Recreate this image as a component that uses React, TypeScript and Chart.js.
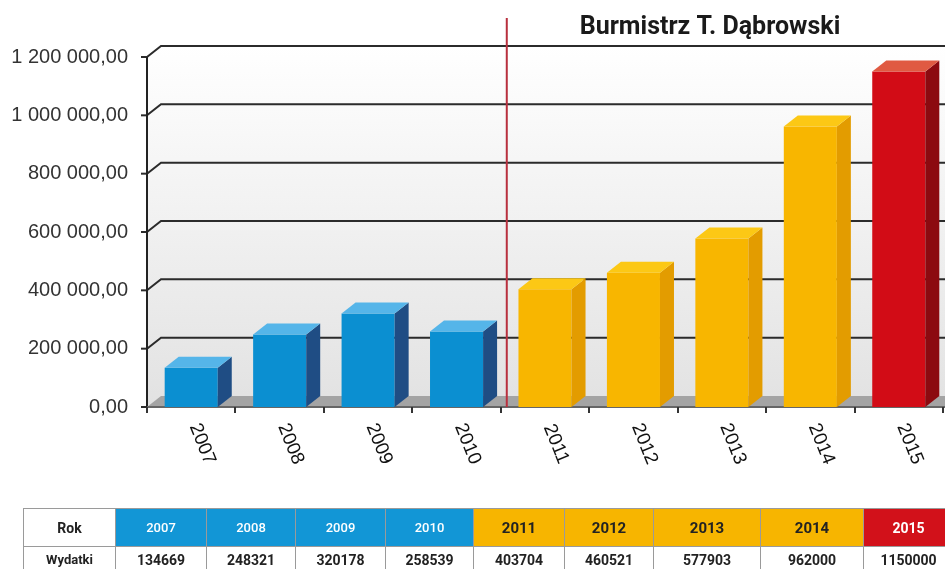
import React, { useEffect, useRef } from 'react';
import { Chart, registerables } from 'chart.js';

Chart.register(...registerables);

// ---- data ----
const years = ['2007', '2008', '2009', '2010', '2011', '2012', '2013', '2014', '2015'];
const spending = [134669, 248321, 320178, 258539, 403704, 460521, 577903, 962000, 1150000];
const periods = ['blue', 'blue', 'blue', 'blue', 'yellow', 'yellow', 'yellow', 'yellow', 'red'];
const yTickValues = [0, 200000, 400000, 600000, 800000, 1000000, 1200000];
const chartTitle = 'Burmistrz T. Dąbrowski';
const rowLabels = ['Rok', 'Wydatki'];
const tableColumnWidths = [92, 91, 89, 90, 88, 91, 89, 107, 103, 90];

const COLORS: Record<string, any> = {
  blue: { front: '#0b8fd1', side: '#1f4d84', top: '#55b5e9', cell: '#1296d6', cellText: '#ffffff', weight: 500, size: 13 },
  yellow: { front: '#f8b600', side: '#e39c00', top: '#fcc815', cell: '#f7b500', cellText: '#222222', weight: 700, size: 15 },
  red: { front: '#d20c16', side: '#8c0a10', top: '#e05a42', cell: '#d2111a', cellText: '#ffffff', weight: 700, size: 14 },
};

const DX = 14;
const DY = 11;

const fmt = (v: number) => String(v).replace(/\B(?=(\d{3})+(?!\d))/g, ' ') + ',00';

const threeD = {
  id: 'threeD',
  beforeDatasetsDraw(chart: any) {
    const { ctx, chartArea, scales } = chart;
    const { left, top, bottom } = chartArea;
    const W = chart.width;
    const y = scales.y;
    const x = scales.x;
    ctx.save();
    // back + side wall
    const g = ctx.createLinearGradient(0, top - DY, 0, bottom);
    g.addColorStop(0, '#ffffff');
    g.addColorStop(1, '#e2e2e2');
    ctx.fillStyle = g;
    ctx.beginPath();
    ctx.moveTo(left, top);
    ctx.lineTo(left + DX, top - DY);
    ctx.lineTo(W, top - DY);
    ctx.lineTo(W, bottom);
    ctx.lineTo(left, bottom);
    ctx.closePath();
    ctx.fill();
    // floor
    ctx.fillStyle = '#a4a4a4';
    ctx.beginPath();
    ctx.moveTo(left, bottom);
    ctx.lineTo(left + DX, bottom - DY);
    ctx.lineTo(W, bottom - DY);
    ctx.lineTo(W, bottom);
    ctx.closePath();
    ctx.fill();
    // grid lines
    ctx.strokeStyle = '#2b2b2b';
    ctx.lineWidth = 2;
    yTickValues.forEach((v) => {
      const yy = y.getPixelForValue(v);
      if (v > 0) {
        ctx.beginPath();
        ctx.moveTo(left, yy);
        ctx.lineTo(left + DX, yy - DY);
        ctx.lineTo(W, yy - DY);
        ctx.stroke();
      }
      ctx.beginPath();
      ctx.moveTo(left - 6, yy);
      ctx.lineTo(left, yy);
      ctx.stroke();
    });
    // y axis line
    ctx.strokeStyle = '#222';
    ctx.beginPath();
    ctx.moveTo(left, top);
    ctx.lineTo(left, bottom + 1);
    ctx.stroke();
    // x axis line
    ctx.strokeStyle = '#666';
    ctx.beginPath();
    ctx.moveTo(left, bottom);
    ctx.lineTo(W, bottom);
    ctx.stroke();
    // x ticks at category boundaries
    const step = x.getPixelForValue(1) - x.getPixelForValue(0);
    ctx.strokeStyle = '#333';
    ctx.lineWidth = 2;
    for (let i = 0; i <= years.length; i++) {
      const px = Math.round(x.getPixelForValue(0) - step / 2 + i * step);
      ctx.beginPath();
      ctx.moveTo(px, bottom);
      ctx.lineTo(px, bottom + 6);
      ctx.stroke();
    }
    ctx.restore();
  },
  afterDatasetsDraw(chart: any) {
    const { ctx, chartArea, scales } = chart;
    const { bottom } = chartArea;
    const x = scales.x;
    ctx.save();
    const meta = chart.getDatasetMeta(0);
    meta.data.forEach((bar: any, i: number) => {
      const { x: bx, y: by, base, width } = bar.getProps(['x', 'y', 'base', 'width'], true);
      const l = bx - width / 2;
      const r = bx + width / 2;
      const c = COLORS[periods[i]];
      ctx.fillStyle = c.side;
      ctx.beginPath();
      ctx.moveTo(r, by);
      ctx.lineTo(r + DX, by - DY);
      ctx.lineTo(r + DX, base - DY);
      ctx.lineTo(r, base);
      ctx.closePath();
      ctx.fill();
      ctx.fillStyle = c.top;
      ctx.beginPath();
      ctx.moveTo(l, by);
      ctx.lineTo(l + DX, by - DY);
      ctx.lineTo(r + DX, by - DY);
      ctx.lineTo(r, by);
      ctx.closePath();
      ctx.fill();
    });
    // separator line between terms
    const step = x.getPixelForValue(1) - x.getPixelForValue(0);
    const sepX = x.getPixelForValue(4) - step / 2 + 6;
    ctx.strokeStyle = '#b8303e';
    ctx.lineWidth = 2;
    ctx.beginPath();
    ctx.moveTo(sepX, 18);
    ctx.lineTo(sepX, bottom);
    ctx.stroke();
    // x labels rotated clockwise
    ctx.fillStyle = '#111';
    ctx.font = '19px "Liberation Sans"';
    ctx.textAlign = 'center';
    ctx.textBaseline = 'middle';
    years.forEach((yr, i) => {
      const px = x.getPixelForValue(i) + 11;
      ctx.save();
      ctx.translate(px, bottom + 37);
      ctx.rotate((68 * Math.PI) / 180);
      ctx.fillText(yr, 0, 0);
      ctx.restore();
    });
    // title
    ctx.fillStyle = '#1a1a1a';
    ctx.font = 'bold 25px Roboto';
    ctx.textAlign = 'center';
    ctx.textBaseline = 'middle';
    ctx.fillText(chartTitle, 710, 28);
    ctx.restore();
  },
};

export default function App() {
  const ref = useRef<HTMLCanvasElement>(null);
  useEffect(() => {
    if (!ref.current) return;
    const chart = new Chart(ref.current, {
      type: 'bar',
      data: {
        labels: years,
        datasets: [
          {
            data: spending,
            backgroundColor: periods.map((p) => COLORS[p].front),
            borderWidth: 0,
            categoryPercentage: 1,
            barPercentage: 0.6,
          },
        ],
      },
      options: {
        responsive: false,
        animation: false,
        layout: { padding: { top: 57, right: 2, left: 0, bottom: 0 } },
        plugins: { legend: { display: false }, tooltip: { enabled: false }, title: { display: false } },
        scales: {
          x: {
            grid: { display: false },
            border: { display: false },
            ticks: { display: false },
            afterFit: (s: any) => {
              s.height = 162;
            },
          },
          y: {
            min: 0,
            max: 1200000,
            grid: { display: false, drawTicks: false },
            border: { display: false },
            ticks: {
              stepSize: 200000,
              callback: (v: any) => fmt(Number(v)),
              font: { family: '"Liberation Sans", Arial, sans-serif', size: 20 },
              color: '#333',
              padding: 19,
            },
            afterFit: (s: any) => {
              s.width = 147;
            },
          },
        },
      },
      plugins: [threeD],
    });
    return () => chart.destroy();
  }, []);

  const cellBase: React.CSSProperties = {
    border: '1px solid #9a9a9a',
    textAlign: 'center',
    fontFamily: 'Roboto, sans-serif',
    padding: 0,
  };

  return (
    <div style={{ position: 'fixed', left: 0, top: 0, width: 945, height: 569, overflow: 'hidden', background: '#fff' }}>
      <canvas ref={ref} width={945} height={569} style={{ position: 'absolute', left: 0, top: 0 }} />
      <table
        style={{
          position: 'absolute',
          left: 23,
          top: 508,
          borderCollapse: 'collapse',
          tableLayout: 'fixed',
          width: tableColumnWidths.reduce((a, b) => a + b, 0),
        }}
      >
        <colgroup>
          {tableColumnWidths.map((w, i) => (
            <col key={i} style={{ width: w }} />
          ))}
        </colgroup>
        <tbody>
          <tr style={{ height: 38 }}>
            <td style={{ ...cellBase, background: '#fff', color: '#222', fontWeight: 700, fontSize: 14 }}>{rowLabels[0]}</td>
            {years.map((yr, i) => {
              const c = COLORS[periods[i]];
              return (
                <td key={yr} style={{ ...cellBase, background: c.cell, color: c.cellText, fontWeight: c.weight, fontSize: c.size }}>
                  {yr}
                </td>
              );
            })}
          </tr>
          <tr style={{ height: 26 }}>
            <td style={{ ...cellBase, background: '#fff', color: '#222', fontWeight: 700, fontSize: 13 }}>{rowLabels[1]}</td>
            {spending.map((v, i) => (
              <td key={i} style={{ ...cellBase, background: '#fff', color: '#222', fontWeight: 700, fontSize: 14 }}>
                {v}
              </td>
            ))}
          </tr>
        </tbody>
      </table>
    </div>
  );
}
